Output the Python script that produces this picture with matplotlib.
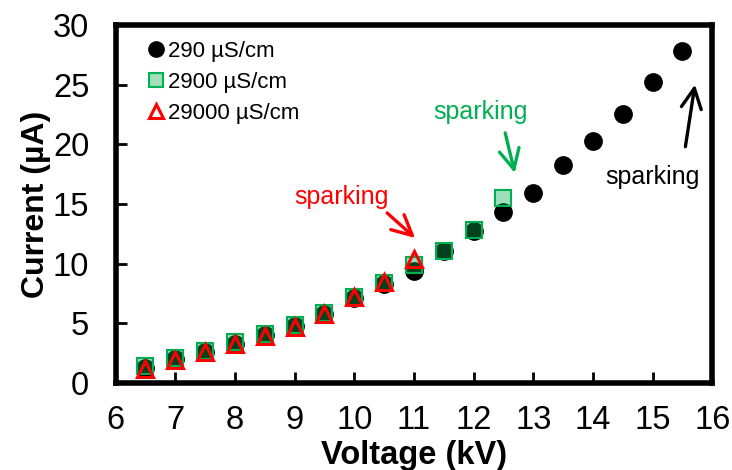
import matplotlib
matplotlib.use("Agg")
import matplotlib.pyplot as plt
from matplotlib.lines import Line2D

plt.rcParams['font.family'] = ['Liberation Sans', 'DejaVu Sans']

v_290 = [6.5, 7, 7.5, 8, 8.5, 9, 9.5, 10, 10.5, 11, 11.5, 12, 12.5, 13, 13.5, 14, 14.5, 15, 15.5]
i_290 = [1.3, 2.0, 2.6, 3.3, 4.0, 4.8, 5.8, 7.1, 8.3, 9.4, 11.1, 12.7, 14.3, 15.9, 18.3, 20.3, 22.5, 25.2, 27.8]
v_2900 = [6.5, 7, 7.5, 8, 8.5, 9, 9.5, 10, 10.5, 11, 11.5, 12, 12.5]
i_2900 = [1.4, 2.1, 2.7, 3.4, 4.1, 4.9, 5.9, 7.2, 8.4, 9.9, 11.1, 12.8, 15.5]
v_29000 = [6.5, 7, 7.5, 8, 8.5, 9, 9.5, 10, 10.5, 11]
i_29000 = [1.2, 1.9, 2.6, 3.3, 3.9, 4.7, 5.8, 7.2, 8.5, 10.4]
labels = ['290 µS/cm', '2900 µS/cm', '29000 µS/cm']

sq_face = (0.0, 0.69, 0.31, 0.38)

fig = plt.figure(figsize=(7.32, 4.70), dpi=100)
ax = fig.add_axes([0.158, 0.185, 0.815, 0.762])

ax.plot(v_290, i_290, 'o', color='black', markersize=12.5, zorder=3)
ax.plot(v_2900, i_2900, 's', markerfacecolor=sq_face,
        markeredgecolor='#00b050', markeredgewidth=1.5, markersize=11, linestyle='none', zorder=4)
ax.plot(v_29000, i_29000, '^', markerfacecolor='none', markeredgecolor='#ff0000',
        markeredgewidth=2.2, markersize=11, linestyle='none', zorder=5)

ax.set_xlim(6, 16)
ax.set_ylim(0, 30)
ax.set_xticks(range(6, 17))
ax.set_yticks(range(0, 31, 5))
ax.tick_params(direction='in', length=8, width=2, labelsize=23.5)
ax.tick_params(axis='x', pad=16)
ax.tick_params(axis='y', pad=19)
for s in ax.spines.values():
    s.set_linewidth(4)

ax.set_xlabel('Voltage (kV)', fontsize=23.5, fontweight='bold', labelpad=3)
ax.set_ylabel('Current (µA)', fontsize=23, fontweight='bold', labelpad=1)

handles = [
    Line2D([], [], marker='o', color='black', linestyle='none', markersize=11),
    Line2D([], [], marker='s', markerfacecolor=sq_face, markeredgecolor='#00b050',
           markeredgewidth=1.5, linestyle='none', markersize=10),
    Line2D([], [], marker='^', markerfacecolor='white', markeredgecolor='#ff0000',
           markeredgewidth=2.2, linestyle='none', markersize=10),
]
ax.legend(handles, labels, loc='upper left', frameon=False, fontsize=16,
          handletextpad=-0.15, handlelength=1.4, labelspacing=0.44,
          bbox_to_anchor=(0.017, 0.995), borderaxespad=0.25)

arrow_kw = dict(arrowstyle='->', lw=2.4, mutation_scale=36, shrinkA=0, shrinkB=0)

ax.text(9.79, 15.6, 'sparking', color='#ff0000', fontsize=18, ha='center', va='center')
ax.annotate('', xy=(11.02, 12.15), xytext=(10.55, 14.25),
            arrowprops=dict(color='#ff0000', **arrow_kw))

ax.text(12.11, 22.7, 'sparking', color='#00b050', fontsize=18, ha='center', va='center')
ax.annotate('', xy=(12.69, 17.6), xytext=(12.53, 20.95),
            arrowprops=dict(color='#00b050', **arrow_kw))

ax.text(14.99, 17.3, 'sparking', color='black', fontsize=18, ha='center', va='center')
ax.annotate('', xy=(15.71, 25.0), xytext=(15.55, 19.8),
            arrowprops=dict(color='black', **arrow_kw))

fig.savefig('out.png', dpi=100)
